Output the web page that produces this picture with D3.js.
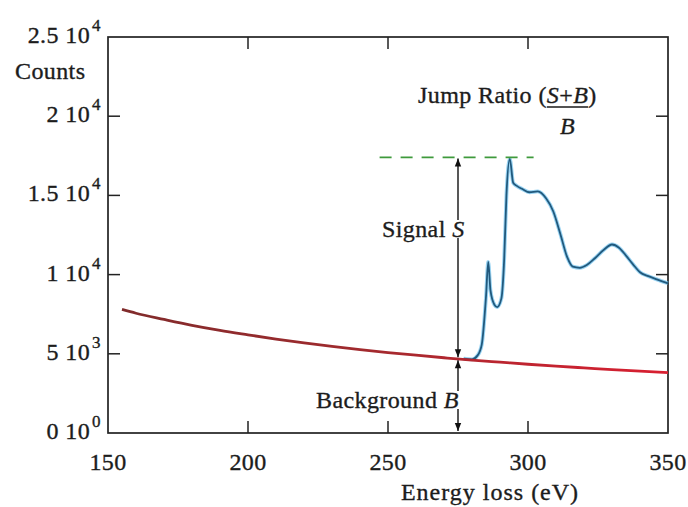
<!DOCTYPE html>
<html>
<head>
<meta charset="utf-8">
<script src="https://d3js.org/d3.v7.min.js"></script>
<style>
  html, body { margin: 0; padding: 0; background: #fff; }
  svg text {
    font-family: 'Liberation Serif', 'DejaVu Serif', serif;
    fill: #1c1c1c; stroke: #1c1c1c; stroke-width: 0.35px;
    letter-spacing: 0.4px;
  }
</style>
</head>
<body>
<svg id="chart" width="688" height="507"></svg>
<script>
  // background (power-law fall-off)
  const bgEnergy = [155, 160, 170, 180, 190, 200, 210, 220, 230, 240, 250,
                    260, 270, 280, 290, 300, 310, 320, 330, 340, 350];
  const bgCounts = [7800, 7560, 7170, 6800, 6480, 6200, 5930, 5690, 5470, 5270, 5080,
                    4910, 4750, 4600, 4470, 4340, 4220, 4110, 4000, 3900, 3810];

  // edge spectrum (blue curve)
  const sigEnergy = [277, 280, 282, 283.5, 285, 285.8, 286.6, 288, 289, 290.5, 291.5,
                     292.3, 293.5, 294.7, 296, 298, 300.5, 303.5, 306.5, 309, 311.5,
                     314, 316, 318.5, 321, 324, 327, 330, 332.5, 335, 337.5, 340,
                     343, 346, 350];
  const sigCounts = [4700, 4650, 4900, 5600, 8600, 10800, 9000, 8100, 7950, 8500, 11000,
                     15000, 17300, 15800, 15600, 15400, 15200, 15250, 14800, 14000, 12600,
                     11100, 10500, 10430, 10600, 11050, 11550, 11900, 11700, 11200, 10650, 10150,
                     9900, 9700, 9450];

  const xTicks = [150, 200, 250, 300, 350];
  const yTicks = [0, 5000, 10000, 15000, 20000, 25000];
  const yMant = ["0", "5", "1", "1.5", "2", "2.5"];
  const yExp = ["0", "3", "4", "4", "4", "4"];

  const edgeEnergy = 275;
  const edgeBg = 4720;
  const jumpTop = 17400;
  const dashFrom = 247, dashTo = 302;

  const svg = d3.select("#chart");
  const pLeft = 108, pRight = 668, pTop = 37, pBottom = 433;
  const x = d3.scaleLinear().domain([150, 350]).range([pLeft, pRight]);
  const y = d3.scaleLinear().domain([0, 25000]).range([pBottom, pTop]);
  const tick = 12;
  const fs = 24;

  const defs = svg.append("defs");
  const grad = defs.append("linearGradient").attr("id", "bgGrad")
    .attr("gradientUnits", "userSpaceOnUse")
    .attr("x1", pLeft).attr("x2", pRight).attr("y1", 0).attr("y2", 0);
  grad.append("stop").attr("offset", "0%").attr("stop-color", "#7e2b2b");
  grad.append("stop").attr("offset", "45%").attr("stop-color", "#a12a2e");
  grad.append("stop").attr("offset", "100%").attr("stop-color", "#d91f31");

  defs.append("marker").attr("id", "head")
    .attr("viewBox", "0 0 10 10").attr("refX", 10).attr("refY", 5)
    .attr("markerWidth", 9).attr("markerHeight", 8)
    .attr("markerUnits", "userSpaceOnUse")
    .attr("orient", "auto-start-reverse")
    .append("path").attr("d", "M0,1 L10,5 L0,9 Z").attr("fill", "#111");

  // frame + inward ticks on all four sides
  svg.append("rect")
    .attr("x", pLeft).attr("y", pTop)
    .attr("width", pRight - pLeft).attr("height", pBottom - pTop)
    .attr("fill", "none").attr("stroke", "#222").attr("stroke-width", 1.7);

  const inner = xTicks.slice(1, -1);
  const innerY = yTicks.slice(1, -1);
  svg.append("g").selectAll("line").data(inner).join("line")
    .attr("x1", d => x(d)).attr("x2", d => x(d))
    .attr("y1", pBottom).attr("y2", pBottom - tick)
    .attr("stroke", "#222").attr("stroke-width", 1.5);
  svg.append("g").selectAll("line").data(inner).join("line")
    .attr("x1", d => x(d)).attr("x2", d => x(d))
    .attr("y1", pTop).attr("y2", pTop + tick)
    .attr("stroke", "#222").attr("stroke-width", 1.5);
  svg.append("g").selectAll("line").data(innerY).join("line")
    .attr("x1", pLeft).attr("x2", pLeft + tick)
    .attr("y1", d => y(d)).attr("y2", d => y(d))
    .attr("stroke", "#222").attr("stroke-width", 1.5);
  svg.append("g").selectAll("line").data(innerY).join("line")
    .attr("x1", pRight).attr("x2", pRight - tick)
    .attr("y1", d => y(d)).attr("y2", d => y(d))
    .attr("stroke", "#222").attr("stroke-width", 1.5);

  // tick labels
  svg.append("g").selectAll("text").data(xTicks).join("text")
    .attr("x", d => x(d)).attr("y", pBottom + 37)
    .attr("text-anchor", "middle").attr("font-size", fs)
    .text(d => d);

  const yl = svg.append("g").selectAll("text").data(yTicks).join("text")
    .attr("x", 101).attr("y", d => y(d) + 6)
    .attr("text-anchor", "end").attr("font-size", fs);
  yl.append("tspan").text((d, i) => yMant[i] + " 10");
  yl.append("tspan").attr("dx", 2).attr("dy", -12).attr("font-size", 17).text((d, i) => yExp[i]);

  svg.append("text").attr("x", 15).attr("y", 79).attr("font-size", fs).text("Counts");
  svg.append("text").attr("x", 490).attr("y", 500)
    .attr("text-anchor", "middle").attr("font-size", fs)
    .style("letter-spacing", "1px").text("Energy loss (eV)");

  // curves
  const line = d3.line().x(d => x(d[0])).y(d => y(d[1])).curve(d3.curveMonotoneX);
  const sig = sigEnergy.map((e, i) => [e, sigCounts[i]]);
  svg.append("path").datum(sig).attr("d", line)
    .attr("fill", "none").attr("stroke", "#6ec0ec").attr("stroke-width", 3.8)
    .attr("stroke-linejoin", "round").attr("opacity", 0.7);
  svg.append("path").datum(sig).attr("d", line)
    .attr("fill", "none").attr("stroke", "#21597d").attr("stroke-width", 1.8)
    .attr("stroke-linejoin", "round");

  const bg = bgEnergy.map((e, i) => [e, bgCounts[i]]);
  svg.append("path").datum(bg).attr("d", line)
    .attr("fill", "none").attr("stroke", "url(#bgGrad)").attr("stroke-width", 2.8);

  // jump level dashed line
  svg.append("line")
    .attr("x1", x(dashFrom)).attr("x2", x(dashTo))
    .attr("y1", y(jumpTop)).attr("y2", y(jumpTop))
    .attr("stroke", "#3f9a3c").attr("stroke-width", 1.6)
    .attr("stroke-dasharray", "12,9");

  // signal arrow
  svg.append("line")
    .attr("x1", x(edgeEnergy)).attr("x2", x(edgeEnergy))
    .attr("y1", y(jumpTop) + 1).attr("y2", y(edgeBg) - 1)
    .attr("stroke", "#111").attr("stroke-width", 1.4)
    .attr("marker-start", "url(#head)").attr("marker-end", "url(#head)");

  // background arrow
  svg.append("line")
    .attr("x1", x(edgeEnergy)).attr("x2", x(edgeEnergy))
    .attr("y1", y(edgeBg) + 2).attr("y2", pBottom - 2)
    .attr("stroke", "#111").attr("stroke-width", 1.4)
    .attr("marker-start", "url(#head)").attr("marker-end", "url(#head)");

  // annotations (white box behind so the arrow is hidden under the text)
  function label(tx, ty, plain, ital) {
    const g = svg.append("g");
    const box = g.append("rect").attr("fill", "#fff");
    const t = g.append("text").attr("x", tx).attr("y", ty).attr("font-size", fs);
    t.append("tspan").text(plain);
    t.append("tspan").attr("font-style", "italic").text(ital);
    const b = t.node().getBBox();
    box.attr("x", b.x).attr("y", b.y + 4).attr("width", b.width + 2).attr("height", b.height - 8);
  }
  label(382, 237, "Signal ", "S");
  label(316, 408, "Background ", "B");

  const jr = svg.append("text").attr("x", 418).attr("y", 103).attr("font-size", fs);
  jr.append("tspan").text("Jump Ratio (");
  const num = jr.append("tspan");
  num.append("tspan").attr("font-style", "italic").text("S");
  num.append("tspan").text("+");
  num.append("tspan").attr("font-style", "italic").text("B");
  jr.append("tspan").text(")");

  // fraction bar under S+B, and the denominator
  const jrBox = jr.node().getBBox();
  const openW = jr.node().getSubStringLength(0, "Jump Ratio (".length);
  const numW = jr.node().getSubStringLength("Jump Ratio (".length, 3);
  const nx = jrBox.x + openW;
  svg.append("line")
    .attr("x1", nx).attr("x2", nx + numW)
    .attr("y1", 107).attr("y2", 107)
    .attr("stroke", "#1a1a1a").attr("stroke-width", 1.4);
  svg.append("text").attr("x", nx + numW / 2).attr("y", 134)
    .attr("text-anchor", "middle").attr("font-size", fs)
    .attr("font-style", "italic").text("B");
</script>
</body>
</html>
